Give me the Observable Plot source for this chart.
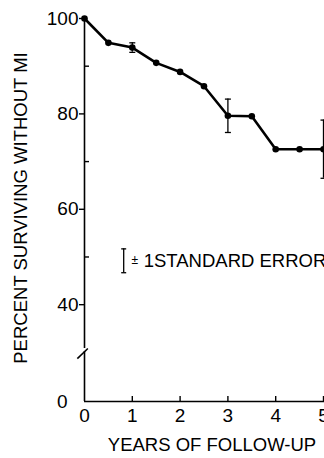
<!DOCTYPE html>
<html><head><meta charset="utf-8">
<script src="https://cdn.jsdelivr.net/npm/d3@7"></script>
<script src="https://cdn.jsdelivr.net/npm/@observablehq/plot@0.6"></script>
<style>
html,body{margin:0;padding:0;background:#fff;}
#chart svg{display:block;background:#fff}
</style></head><body><div id="chart"></div>
<script>
// ---- data ----
const years   = [0, 0.5, 1, 1.5, 2, 2.5, 3, 3.5, 4, 4.5, 5];
const percent = [100, 94.9, 93.9, 90.7, 88.8, 85.8, 79.6, 79.5, 72.6, 72.6, 72.6];
const errYears = [1, 3, 5];
const errSE    = [1.0, 3.5, 6.1];
const xTicks = [0, 1, 2, 3, 4, 5];
const yTicks = [40, 60, 80, 100];
const yMinorTicks = [50, 70, 90];
const yZeroTick = [0];
// broken axis: the 0..40 stretch is compressed to about half its height
const yBreakAt = 40, yCompress = 0.5075;
const breakLow = 20.6, breakHigh = 21.9;
const breakSlash = [{x1: -0.15, y1: 17.7, x2: 0.07, y2: 21.9}];
const xLabel = "YEARS OF FOLLOW-UP";
const yLabel = "PERCENT SURVIVING WITHOUT MI";
const legendPos = [{x: 0.82, y: 49.2, se: 2.5}];
const legendPM = "±";
const legendText = "1STANDARD ERROR";

const rows = years.map((x, i) => ({x, y: percent[i]}));
const errs = errYears.map((x, i) => ({x, y: percent[years.indexOf(x)], se: errSE[i]}));

const yBreak = v => v >= yBreakAt ? v : yBreakAt - (yBreakAt - v) * yCompress;

const cap = {draw(ctx, size) { const w = Math.sqrt(size / Math.PI); ctx.moveTo(-w, 0); ctx.lineTo(w, 0); }};
const font = "'Liberation Sans', Arial, Helvetica, sans-serif";

const chart = Plot.plot({
  width: 324, height: 458,
  marginLeft: 84, marginRight: 1, marginTop: 18, marginBottom: 57,
  style: {fontFamily: font, color: "#000", background: "#fff", overflow: "visible"},
  x: {domain: [0, 5]},
  y: {transform: yBreak, domain: [yBreak(0), 100]},
  marks: [
    // axis lines
    Plot.ruleY([0], {x1: 0, x2: 5.2, stroke: "#000", strokeWidth: 1.6}),
    Plot.ruleX([0], {y1: 0, y2: breakLow, stroke: "#000", strokeWidth: 1.6}),
    Plot.ruleX([0], {y1: breakHigh, y2: 100, stroke: "#000", strokeWidth: 1.6}),
    Plot.link(breakSlash, {x1: "x1", y1: "y1", x2: "x2", y2: "y2", stroke: "#000", strokeWidth: 1.6}),
    // y axis ticks & labels
    Plot.axisY(yTicks, {tickSize: 5, tickPadding: 1, fontSize: 19, label: null, strokeWidth: 1.4}),
    Plot.axisY(yMinorTicks, {tickSize: -5, tickFormat: () => "", label: null, strokeWidth: 1.4}),
    Plot.axisY(yZeroTick, {tickSize: 0, tickPadding: 17, fontSize: 19, label: null}),
    // x axis ticks & labels
    Plot.axisX(xTicks.slice(1), {tickSize: -5, tickFormat: () => "", label: null, strokeWidth: 1.4}),
    Plot.axisX(xTicks, {tickSize: 0, tickPadding: 7, fontSize: 19, label: null}),
    // titles
    Plot.text([xLabel], {frameAnchor: "bottom", dx: 8, dy: 44, lineAnchor: "middle", fontSize: 18.5, fill: "#000"}),
    Plot.text([yLabel], {frameAnchor: "left", textAnchor: "middle", rotate: -90, dx: -63, dy: -2, lineAnchor: "middle", fontSize: 18.5, fill: "#000"}),
    // data
    Plot.line(rows, {x: "x", y: "y", stroke: "#000", strokeWidth: 2.6}),
    Plot.dot(rows, {x: "x", y: "y", r: 3.3, fill: "#000", stroke: "none"}),
    // error bars
    Plot.ruleX(errs, {x: "x", y1: d => d.y - d.se, y2: d => d.y + d.se, stroke: "#000", strokeWidth: 1.3}),
    Plot.dot(errs, {x: "x", y: d => d.y + d.se, symbol: cap, r: 3, fill: "none", stroke: "#000", strokeWidth: 1.3}),
    Plot.dot(errs, {x: "x", y: d => d.y - d.se, symbol: cap, r: 3, fill: "none", stroke: "#000", strokeWidth: 1.3}),
    // legend
    Plot.ruleX(legendPos, {x: "x", y1: d => d.y - d.se, y2: d => d.y + d.se, stroke: "#000", strokeWidth: 1.3}),
    Plot.dot(legendPos, {x: "x", y: d => d.y + d.se, symbol: cap, r: 2.5, fill: "none", stroke: "#000", strokeWidth: 1.3}),
    Plot.dot(legendPos, {x: "x", y: d => d.y - d.se, symbol: cap, r: 2.5, fill: "none", stroke: "#000", strokeWidth: 1.3}),
    Plot.text(legendPos, {x: "x", y: "y", text: () => legendPM, dx: 11, dy: -1, fontSize: 12, fill: "#000"}),
    Plot.text(legendPos, {x: "x", y: "y", text: () => legendText, dx: 20, textAnchor: "start", fontSize: 18.5, fill: "#000"})
  ]
});
document.getElementById("chart").appendChild(chart);
</script></body></html>
